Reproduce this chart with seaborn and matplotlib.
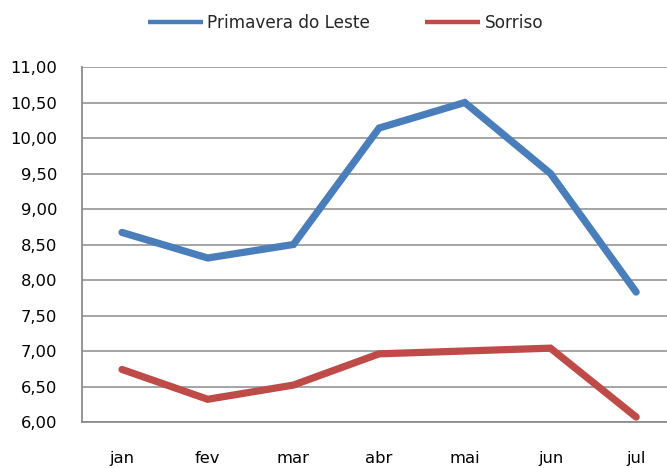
import pandas as pd
import seaborn as sns
import matplotlib.pyplot as plt
from matplotlib.ticker import FuncFormatter

# data
meses = ["jan", "fev", "mar", "abr", "mai", "jun", "jul"]
primavera = [8.67, 8.31, 8.50, 10.14, 10.50, 9.50, 7.83]
sorriso = [6.74, 6.32, 6.52, 6.96, 7.00, 7.04, 6.07]
series_names = ["Primavera do Leste", "Sorriso"]
cores = ["#4A7EBB", "#BE4B48"]

df = pd.DataFrame({"mes": meses * 2,
                   "valor": primavera + sorriso,
                   "serie": [series_names[0]] * len(meses) + [series_names[1]] * len(meses)})
df["x"] = list(range(len(meses))) * 2

sns.set_style("white")
plt.rcParams["font.family"] = ["DejaVu Sans"]

fig = plt.figure(figsize=(6.67, 4.68), dpi=100)
ax = fig.add_axes([82 / 667, (468 - 422) / 468, 1 - 82 / 667, (422 - 67) / 468])

sns.lineplot(data=df, x="x", y="valor", hue="serie", palette=cores,
             linewidth=5.2, solid_capstyle="round", solid_joinstyle="miter",
             ax=ax, legend=True)

ax.set_xlim(-0.467, 6.36)
ax.set_ylim(6.0, 11.0)
ax.set_yticks([6 + 0.5 * i for i in range(11)])
ax.yaxis.set_major_formatter(FuncFormatter(lambda v, p: f"{v:.2f}".replace(".", ",")))
ax.set_xticks(range(len(meses)))
ax.set_xticklabels(meses)
ax.tick_params(axis="both", length=0, labelsize=11.8, colors="black")
ax.tick_params(axis="x", pad=21)
ax.tick_params(axis="y", pad=18)
ax.set_xlabel("")
ax.set_ylabel("")

ax.grid(axis="y", color="#8c8c8c", linewidth=1.1)
ax.set_axisbelow(True)
for s in ["top", "right"]:
    ax.spines[s].set_visible(False)
for s in ["left", "bottom"]:
    ax.spines[s].set_color("#8c8c8c")
    ax.spines[s].set_linewidth(1.3)

leg = ax.legend(loc="center left", bbox_to_anchor=(148 / 667, 1 - 23 / 468),
                bbox_transform=fig.transFigure, borderaxespad=0, borderpad=0,
                ncol=2, frameon=False, fontsize=12.2, handlelength=3.25, handletextpad=0.25,
                columnspacing=3.25, title=None)
for line in leg.get_lines():
    line.set_linewidth(3.2)
    line.set_solid_capstyle("butt")

fig.savefig("out.png", dpi=100)
